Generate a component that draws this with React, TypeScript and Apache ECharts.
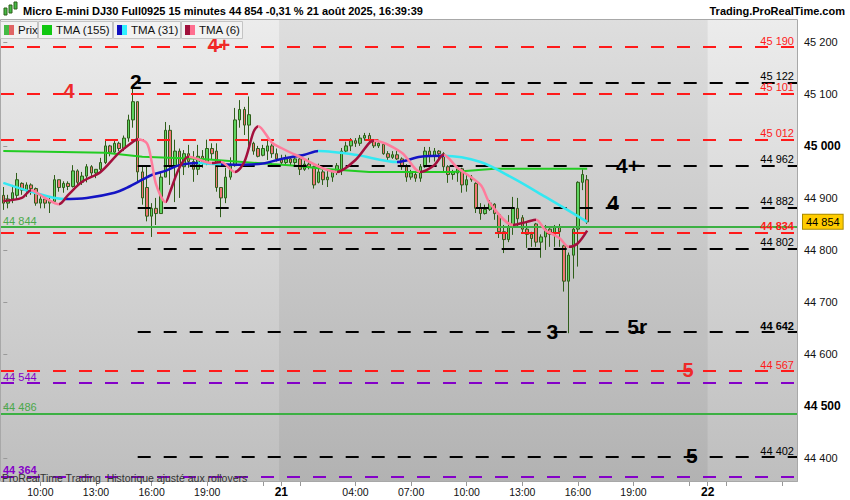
import React, { useEffect, useRef } from "react";
import * as echarts from "echarts";

// ---- DATA ----
// candles: [open, close, low, high], one per 15-minute bar from 20 Aug 08:00
const candles: number[][] = [
  [44905, 44890, 44877, 44921], [44890, 44898, 44880, 44906], [44898, 44910, 44890, 44925], [44905, 44935, 44896, 44948],
  [44928, 44915, 44906, 44930], [44915, 44925, 44902, 44930], [44925, 44918, 44906, 44928], [44918, 44890, 44885, 44920],
  [44890, 44898, 44880, 44906], [44898, 44890, 44880, 44900], [44890, 44895, 44871, 44900], [44893, 44935, 44890, 44944],
  [44935, 44920, 44912, 44935], [44920, 44928, 44910, 44932], [44928, 44922, 44915, 44932], [44922, 44952, 44920, 44963],
  [44952, 44930, 44925, 44955], [44930, 44942, 44925, 44950], [44942, 44960, 44930, 44965], [44960, 44948, 44940, 44963],
  [44948, 44955, 44938, 44955], [44955, 44968, 44948, 44977], [44968, 45000, 44965, 45012], [45000, 44988, 44980, 45002],
  [44988, 45005, 44985, 45012], [45005, 44995, 44990, 45008], [44995, 45015, 44990, 45020], [45015, 45050, 45008, 45060],
  [45050, 45085, 45035, 45112], [45085, 44950, 44930, 45085], [44950, 44900, 44887, 44963], [44920, 44865, 44855, 44963],
  [44865, 44880, 44825, 44890], [44880, 44870, 44848, 44900], [44870, 44940, 44870, 44950], [44940, 45030, 44940, 45046],
  [45030, 44960, 44925, 45040], [44960, 44990, 44892, 45012], [44990, 44960, 44900, 44995], [44960, 44985, 44944, 44992],
  [44985, 44970, 44958, 45002], [44970, 44955, 44931, 44990], [44955, 44980, 44944, 45002], [44980, 44968, 44958, 44992],
  [44968, 44995, 44963, 45012], [44995, 44985, 44973, 45005], [44990, 44920, 44912, 45005], [44920, 44900, 44863, 44921],
  [44900, 44940, 44890, 44958], [44940, 44962, 44935, 44978], [44962, 45050, 44960, 45073], [45050, 45070, 45035, 45088],
  [45070, 45040, 45021, 45075], [45040, 45060, 44995, 45095], [45005, 44990, 44983, 45008], [44995, 44980, 44978, 45000],
  [44982, 44995, 44980, 45002], [44990, 45000, 44973, 45012], [45000, 44985, 44977, 45005], [44985, 44975, 44970, 44995],
  [44975, 44968, 44963, 44983], [44968, 44975, 44963, 44983], [44975, 44968, 44963, 44979], [44968, 44975, 44962, 44979],
  [44975, 44955, 44944, 44977], [44955, 44965, 44952, 44973], [44965, 44960, 44955, 44977], [44960, 44925, 44918, 44962],
  [44930, 44950, 44928, 44966], [44950, 44935, 44925, 44954], [44935, 44940, 44921, 44954], [44940, 44950, 44931, 44954],
  [44950, 44962, 44944, 44967], [44955, 44990, 44944, 44996], [44990, 45000, 44985, 45008], [45000, 45010, 44990, 45015],
  [45010, 45005, 44998, 45015], [45005, 45015, 45000, 45021], [45015, 45020, 45010, 45025], [45020, 45010, 45005, 45025],
  [45010, 45000, 44996, 45010], [45000, 45005, 44996, 45012], [45003, 44985, 44983, 45003], [44985, 44978, 44973, 44990],
  [44978, 44983, 44975, 44990], [44983, 44975, 44973, 44990], [44975, 44960, 44954, 44978], [44960, 44940, 44931, 44965],
  [44940, 44948, 44935, 44954], [44945, 44938, 44931, 44948], [44938, 44960, 44931, 44965], [44960, 44990, 44958, 44998],
  [44990, 44980, 44968, 44998], [44980, 44990, 44970, 44996], [44990, 44985, 44975, 44992], [44985, 44960, 44948, 44988],
  [44960, 44945, 44929, 44963], [44945, 44950, 44935, 44954], [44948, 44956, 44931, 44960], [44956, 44925, 44910, 44958],
  [44925, 44935, 44912, 44944], [44935, 44940, 44931, 44944], [44928, 44880, 44871, 44930], [44880, 44870, 44858, 44890],
  [44870, 44878, 44868, 44887], [44878, 44890, 44875, 44896], [44888, 44870, 44858, 44890], [44868, 44835, 44823, 44870],
  [44835, 44820, 44794, 44848], [44820, 44845, 44815, 44867], [44845, 44880, 44829, 44902], [44880, 44860, 44845, 44900],
  [44862, 44840, 44833, 44867], [44840, 44830, 44804, 44855], [44830, 44822, 44806, 44835], [44850, 44815, 44806, 44852],
  [44815, 44825, 44785, 44830], [44825, 44840, 44800, 44848], [44840, 44830, 44806, 44842], [44830, 44845, 44806, 44848],
  [44845, 44835, 44806, 44850], [44808, 44740, 44720, 44810], [44740, 44790, 44640, 44795], [44790, 44840, 44745, 44845],
  [44840, 44930, 44768, 44932], [44930, 44945, 44915, 44955], [44935, 44854, 44850, 44944],
];

// moving averages: [bar index, value]
const tma155: number[][] = [
  [0, 44990], [22, 44987], [30, 44979], [43, 44975], [58, 44965], [63, 44962], [69, 44956],
  [79, 44950], [97, 44950], [106, 44956], [126, 44956],
];
const tma31: number[][] = [
  [0, 44929], [6, 44912], [13, 44898], [18, 44900], [24, 44910], [27, 44921], [30, 44935], [32, 44944],
  [35, 44952], [38, 44963], [42, 44967], [46, 44965], [50, 44964], [56, 44966], [60, 44975], [65, 44983],
  [68, 44990], [76, 44983], [85, 44969], [90, 44979], [95, 44981], [103, 44969], [110, 44938], [117, 44902],
  [121, 44881], [126, 44854],
];
const tma31Turns = [13, 42, 47, 68, 85, 95]; // starts falling
const tma6: number[][] = [
  [0, 44894], [4, 44900], [6, 44915], [9, 44900], [12, 44888], [14, 44906], [17, 44931], [21, 44950],
  [25, 44987], [28, 45008], [29, 45013], [31, 45005], [32, 44970], [33, 44925], [35, 44892], [36, 44912],
  [38, 44958], [40, 44979], [45, 44967], [47, 44969], [50, 44950], [52, 44969], [54, 45027], [55, 45038],
  [58, 45006], [60, 44996], [63, 44983], [72, 44950], [76, 44973], [79, 45006], [80, 45010], [86, 44987],
  [90, 44950], [93, 44963], [95, 44983], [98, 44958], [103, 44925], [105, 44890], [110, 44848], [113, 44854],
  [115, 44858], [117, 44838], [120, 44823], [122, 44806], [124, 44813], [126, 44837],
];
const tma6Turns = [6, 12, 29, 35, 40, 45, 47, 50, 55, 72, 80, 90, 95, 110, 115, 122]; // starts rising

const redLevels = [45190, 45101, 45012, 44834, 44567];
const blackLevels = [45122, 44962, 44882, 44802, 44642, 44402];
const blackStart = 29;
const purpleLevels = [44544, 44364];
const greenLevels = [44844, 44486];
const boldLevels = [44834, 44642, 44364];
const lastPrice = 44854;
const yTicks = [44400, 44500, 44600, 44700, 44800, 44900, 45000, 45100, 45200];
const yMin = 44354;
const yMax = 45242;

const waveLabels = [
  { text: "4+", idx: 46.5, price: 45194, red: true },
  { text: "4", idx: 14.2, price: 45106, red: true },
  { text: "2", idx: 28.6, price: 45123, red: false },
  { text: "4+", idx: 134.8, price: 44963, red: false },
  { text: "4", idx: 131.6, price: 44892, red: false },
  { text: "3", idx: 118.5, price: 44644, red: false },
  { text: "5r", idx: 136.8, price: 44652, red: false },
  { text: "5", idx: 147.8, price: 44569, red: true },
  { text: "5", idx: 148.6, price: 44404, red: false },
];

// sessions: day, first slot, end slot (15-min slots, 23h session)
const sessions = [
  { day: 20, from: 32, to: 92 },
  { day: 21, from: 0, to: 92 },
  { day: 22, from: 0, to: 20 },
];
const labelHours = [4, 7, 10, 13, 16, 19];
const tickHours = [1, 4, 7, 10, 13, 16, 19, 22];

const categories: string[] = [];
sessions.forEach((s) => {
  for (let k = s.from; k < s.to; k++) {
    const h = Math.floor(k / 4);
    const m = (k % 4) * 15;
    categories.push(`${s.day} ${String(h).padStart(2, "0")}:${String(m).padStart(2, "0")}`);
  }
});

const FONT = "'Liberation Sans', Arial, sans-serif";
const fmt = (v: number) => `${Math.floor(v / 1000)} ${String(Math.round(v) % 1000).padStart(3, "0")}`;

function pieces(turns: number[], first: string, second: string) {
  const out: any[] = [];
  let prev = -Infinity;
  let c = first;
  turns.forEach((t) => {
    out.push(prev === -Infinity ? { lt: t, color: c } : { gte: prev, lt: t, color: c });
    prev = t;
    c = c === first ? second : first;
  });
  out.push({ gte: prev, color: c });
  return out;
}

export default function App() {
  const ref = useRef<HTMLDivElement>(null);
  useEffect(() => {
    if (!ref.current) return;
    const chart = echarts.init(ref.current, null, { renderer: "svg" });

    const RED = "#ff1a1a";
    const PURPLE = "#8400c8";
    const GREEN = "#3cb043";
    const dash = [13, 13];

    const levelData: any[] = [];
    redLevels.forEach((v) =>
      levelData.push({
        yAxis: v,
        lineStyle: { color: RED, type: dash, width: 2 },
        label: {
          show: true, position: "insideEndTop", formatter: fmt(v), color: RED, fontSize: 11,
          fontFamily: FONT, fontWeight: boldLevels.includes(v) ? "bold" : "normal", distance: [4, 1],
        },
      })
    );
    blackLevels.forEach((v) =>
      levelData.push([
        {
          coord: [blackStart, v],
          lineStyle: { color: "#000", type: dash, width: 2 },
          label: {
            show: true, position: "insideEndTop", formatter: fmt(v), color: "#000", fontSize: 11,
            fontFamily: FONT, fontWeight: boldLevels.includes(v) ? "bold" : "normal", distance: [4, 1],
          },
        },
        { coord: [171.5, v] },
      ])
    );
    purpleLevels.forEach((v) =>
      levelData.push({
        yAxis: v,
        lineStyle: { color: PURPLE, type: dash, width: 2 },
        label: {
          show: true, position: "insideStartTop", formatter: fmt(v), color: PURPLE, fontSize: 11,
          fontFamily: FONT, fontWeight: boldLevels.includes(v) ? "bold" : "normal", distance: [2, 1],
        },
      })
    );
    greenLevels.forEach((v) =>
      levelData.push({
        yAxis: v,
        lineStyle: { color: GREEN, type: "solid", width: 2 },
        label: {
          show: true, position: "insideStartTop", formatter: fmt(v), color: "#4aa84a", fontSize: 11,
          fontFamily: FONT, distance: [2, 1],
        },
      })
    );
    levelData.push({
      yAxis: lastPrice,
      lineStyle: { color: "transparent", width: 0 },
      label: {
        show: true, position: "end", formatter: fmt(lastPrice), color: "#000", fontSize: 11, fontFamily: FONT,
        backgroundColor: "#ffcc00", borderColor: "#a88a00", borderWidth: 1, padding: [2, 3, 1, 3], distance: 5,
      },
    });

    const isDayStart = (v: string) => v.endsWith(" 00:00");
    const hourOf = (v: string) => parseInt(v.split(" ")[1].slice(0, 2), 10);
    const minOf = (v: string) => v.split(" ")[1].slice(3);
    const showLabel = (v: string) => {
      if (minOf(v) !== "00") return false;
      if (isDayStart(v)) return true;
      if (v.startsWith("22 ")) return false;
      return labelHours.includes(hourOf(v));
    };
    const showTick = (v: string) => {
      if (minOf(v) !== "00") return false;
      return isDayStart(v) || tickHours.includes(hourOf(v));
    };

    const W = 850, H = 500, gl = 1, gr = 52, gt = 20, gb = 18;

    const legendBoxes = [
      { x: 0, w: 37, text: "Prix", c1: "#44bb44", c2: "#e06464" },
      { x: 38, w: 74, text: "TMA (155)", c1: "#11c811", c2: "#11c811" },
      { x: 113, w: 67, text: "TMA (31)", c1: "#1010c0", c2: "#30f0ff" },
      { x: 181, w: 61, text: "TMA (6)", c1: "#a0103c", c2: "#ff6f90" },
    ];
    const legendEls: any[] = [];
    legendBoxes.forEach((b) => {
      legendEls.push({ type: "rect", shape: { x: b.x + 0.5, y: 21.5, width: b.w, height: 17 }, style: { fill: "#f2f2f2", stroke: "#c4c4c4", lineWidth: 1 }, z: 100 });
      legendEls.push({ type: "rect", shape: { x: b.x + 4, y: 25, width: 5, height: 10 }, style: { fill: b.c1 }, z: 101 });
      legendEls.push({ type: "rect", shape: { x: b.x + 9, y: 25, width: 5, height: 10 }, style: { fill: b.c2 }, z: 101 });
      legendEls.push({ type: "text", x: b.x + 18, y: 30, style: { text: b.text, fill: "#111", font: `11.5px ${FONT}`, verticalAlign: "middle" }, z: 101 });
    });

    const option: any = {
      animation: false,
      backgroundColor: "#ffffff",
      grid: { left: gl, right: gr, top: gt, bottom: gb, containLabel: false },
      graphic: [
        {
          type: "rect", z: -100, silent: true,
          shape: { x: gl, y: gt, width: W - gl - gr, height: H - gt - gb },
          style: {
            fill: new echarts.graphic.LinearGradient(0, 0, 0, 1, [
              { offset: 0, color: "#ececec" },
              { offset: 1, color: "#bebebe" },
            ]),
          },
        },
        {
          type: "rect", z: 50, silent: true,
          shape: { x: gl - 0.5, y: gt - 0.5, width: W - gl - gr, height: H - gt - gb },
          style: { fill: "none", stroke: "#a8a8a8", lineWidth: 1 },
        },
        // header icon
        { type: "rect", shape: { x: 4, y: 8, width: 3, height: 7 }, style: { fill: "#44bb44", stroke: "#2f5e1a", lineWidth: 1 }, z: 100 },
        { type: "rect", shape: { x: 9, y: 5, width: 3, height: 8 }, style: { fill: "#44bb44", stroke: "#2f5e1a", lineWidth: 1 }, z: 100 },
        { type: "rect", shape: { x: 14, y: 2, width: 3, height: 7 }, style: { fill: "#44bb44", stroke: "#2f5e1a", lineWidth: 1 }, z: 100 },
        {
          type: "text", x: 23, y: 11, z: 100,
          style: { text: "Micro E-mini DJ30 Full0925 15 minutes 44 854 -0,31 % 21 août 2025, 16:39:39", fill: "#000", font: `bold 11px ${FONT}`, verticalAlign: "middle" },
        },
        {
          type: "text", x: 845, y: 11, z: 100,
          style: { text: "Trading.ProRealTime.com", fill: "#000", font: `bold 11px ${FONT}`, align: "right", verticalAlign: "middle" },
        },
        ...legendEls,
        {
          type: "text", x: 2, y: 478, z: 100,
          style: { text: "ProRealTime Trading  Historique ajusté aux rollovers", fill: "#333", font: `10.5px ${FONT}`, verticalAlign: "middle" },
        },
      ],
      xAxis: [
        {
          type: "category", data: categories, boundaryGap: true,
          axisLine: { show: false },
          axisTick: { show: true, alignWithLabel: true, length: 4, lineStyle: { color: "#999" }, interval: (_i: number, v: string) => showTick(v) },
          axisLabel: {
            interval: (_i: number, v: string) => showLabel(v),
            formatter: (v: string) => (isDayStart(v) ? `{d|${v.split(" ")[0]}}` : v.split(" ")[1]),
            color: "#111", fontSize: 10.5, fontFamily: FONT, margin: 4,
            rich: { d: { fontWeight: "bold", fontSize: 12, fontFamily: FONT, color: "#000" } },
          },
          splitLine: { show: false },
        },
        { type: "value", min: -0.5, max: 171.5, show: false },
      ],
      yAxis: {
        type: "value", position: "right", min: yMin, max: yMax,
        axisLine: { show: false },
        axisTick: { show: true, length: 4, lineStyle: { color: "#999" }, customValues: yTicks },
        axisLabel: {
          customValues: yTicks,
          formatter: (v: number) => (v % 500 === 0 ? `{b|${fmt(v)}}` : fmt(v)),
          color: "#111", fontSize: 11, fontFamily: FONT, margin: 6,
          rich: { b: { fontWeight: "bold", fontSize: 12, fontFamily: FONT, color: "#000" } },
        },
        splitLine: { show: false },
      },
      visualMap: [
        { type: "piecewise", show: false, dimension: 0, seriesIndex: 3, pieces: pieces(tma31Turns, "#33e8f2", "#1414c4") },
        { type: "piecewise", show: false, dimension: 0, seriesIndex: 4, pieces: pieces(tma6Turns, "#a3103c", "#ff7c9c") },
      ],
      series: [
        {
          type: "candlestick", name: "Prix", xAxisIndex: 0, data: candles, barWidth: 3, z: 3,
          itemStyle: { color: "#5fd35f", color0: "#f07474", borderColor: "#2f5e1a", borderColor0: "#2f5e1a", borderWidth: 1 },
        },
        {
          type: "line", name: "levels", xAxisIndex: 1, data: [], z: 1, silent: true,
          markLine: { symbol: ["none", "none"], silent: true, animation: false, data: levelData },
          markArea: {
            silent: true,
            itemStyle: { color: "rgba(0,0,0,0.06)" },
            data: [[{ xAxis: 59.5 }, { xAxis: 152 }]],
          },
        },
        { type: "line", name: "TMA (155)", xAxisIndex: 1, data: tma155, showSymbol: false, z: 4, lineStyle: { color: "#22cc22", width: 2 }, itemStyle: { color: "#22cc22" } },
        { type: "line", name: "TMA (31)", xAxisIndex: 1, data: tma31, showSymbol: false, smooth: 0.3, z: 5, lineStyle: { width: 2.5 } },
        { type: "line", name: "TMA (6)", xAxisIndex: 1, data: tma6, showSymbol: false, smooth: 0.3, z: 6, lineStyle: { width: 2.5 } },
        {
          type: "scatter", name: "waves", xAxisIndex: 1, symbol: "circle", symbolSize: 2, z: 7, silent: true,
          itemStyle: { color: "rgba(0,0,0,0)", opacity: 1 },
          data: waveLabels.map((w) => ({
            value: [w.idx, w.price],
            label: {
              show: true, position: "inside", formatter: w.text, opacity: 1, textBorderWidth: 0,
              color: w.red ? "#ee2a2a" : "#000", fontSize: w.red ? 20 : 21, fontWeight: "bold", fontFamily: FONT,
            },
          })),
        },
      ],
    };
    chart.setOption(option);
    return () => chart.dispose();
  }, []);
  return <div ref={ref} style={{ position: "fixed", left: 0, top: 0, width: 850, height: 500 }} />;
}
